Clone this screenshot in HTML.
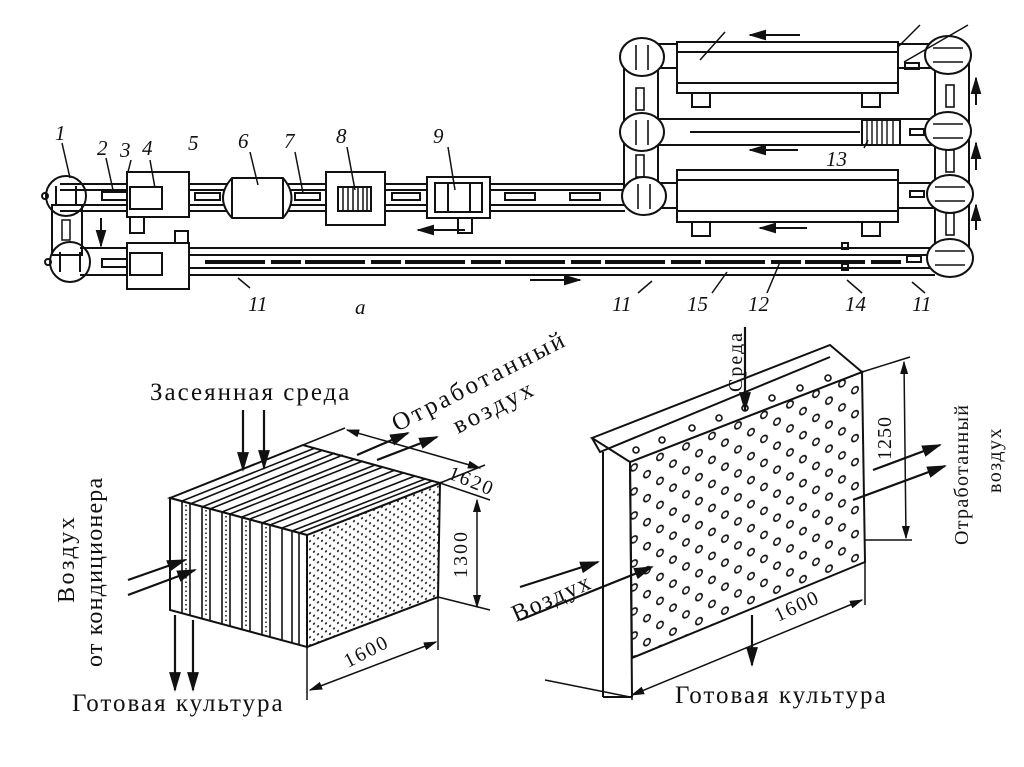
<!DOCTYPE html>
<html><head><meta charset="utf-8"><style>
html,body{margin:0;padding:0;background:#fff;}
svg{display:block;}
text{font-family:"Liberation Serif",serif;fill:#111;}
.n{font-style:italic;font-size:21px;}
.L{font-size:25px;letter-spacing:2px;}
</style></head><body>
<svg width="1024" height="767" viewBox="0 0 1024 767" xmlns="http://www.w3.org/2000/svg">
<defs>
<marker id="ar" viewBox="0 0 10 10" refX="9" refY="5" markerWidth="9" markerHeight="9" orient="auto-start-reverse"><path d="M0,2 L10,5 L0,8 z" fill="#111"/></marker>
<pattern id="dots" width="8" height="8" patternUnits="userSpaceOnUse" patternTransform="skewY(-20)"><circle cx="2" cy="2" r="1.1" fill="#222"/><circle cx="6" cy="6" r="1.1" fill="#222"/></pattern>
<pattern id="holes" width="26" height="24" patternUnits="userSpaceOnUse" patternTransform="translate(640,470) skewY(-22)"><circle cx="7" cy="7" r="3.2" fill="none" stroke="#111" stroke-width="1.6"/><circle cx="20" cy="19" r="3.2" fill="none" stroke="#111" stroke-width="1.6"/></pattern>
</defs>
<g fill="none" stroke="#111" stroke-width="2">
<line x1="60" y1="184" x2="625" y2="184"/><line x1="60" y1="190" x2="625" y2="190"/>
<line x1="60" y1="205" x2="625" y2="205"/><line x1="60" y1="211" x2="625" y2="211"/>
<line x1="80" y1="248" x2="935" y2="248"/><line x1="190" y1="255" x2="935" y2="255"/>
<line x1="190" y1="268" x2="935" y2="268"/><line x1="80" y1="275" x2="935" y2="275"/>
<line x1="205" y1="262" x2="905" y2="262" stroke-width="4" stroke-dasharray="60 6 30 4"/>
<rect x="52" y="205" width="30" height="50"/>
<rect x="62" y="220" width="8" height="20" stroke-width="1.5"/>
<circle cx="66" cy="196" r="20"/><circle cx="70" cy="262" r="20"/>
<line x1="56" y1="186" x2="56" y2="206"/><line x1="76" y1="186" x2="76" y2="206"/>
<line x1="60" y1="252" x2="60" y2="272"/><line x1="80" y1="252" x2="80" y2="272"/>
<circle cx="45" cy="196" r="3"/><circle cx="48" cy="262" r="3"/>
<rect x="102" y="192" width="30" height="8"/><rect x="102" y="259" width="30" height="8"/>
<rect x="127" y="172" width="62" height="45" fill="#fff"/>
<rect x="130" y="187" width="32" height="22"/>
<rect x="127" y="243" width="62" height="46" fill="#fff"/>
<rect x="130" y="253" width="32" height="22"/>
<rect x="130" y="217" width="14" height="16"/><rect x="175" y="231" width="13" height="12"/>
<path d="M232,178 L283,178 Q300,198 283,218 L232,218 Q214,198 232,178 z" fill="#fff"/>
<line x1="232" y1="178" x2="232" y2="218"/><line x1="283" y1="178" x2="283" y2="218"/>
<rect x="195" y="193" width="25" height="7"/><rect x="295" y="193" width="25" height="7"/>
<rect x="326" y="172" width="59" height="53" fill="#fff"/>
<rect x="338" y="187" width="33" height="24"/>
<g stroke-width="1.5"><line x1="343" y1="187" x2="343" y2="211"/><line x1="348" y1="187" x2="348" y2="211"/><line x1="353" y1="187" x2="353" y2="211"/><line x1="358" y1="187" x2="358" y2="211"/><line x1="363" y1="187" x2="363" y2="211"/><line x1="367" y1="187" x2="367" y2="211"/></g>
<rect x="392" y="193" width="28" height="7"/>
<rect x="427" y="177" width="63" height="41" fill="#fff"/>
<rect x="435" y="183" width="47" height="29"/>
<line x1="448" y1="183" x2="448" y2="212"/><line x1="470" y1="183" x2="470" y2="212"/>
<rect x="458" y="218" width="14" height="15"/>
<rect x="505" y="193" width="30" height="7"/><rect x="570" y="193" width="30" height="7"/>
<rect x="624" y="55" width="34" height="145"/><rect x="935" y="55" width="34" height="205"/>
<line x1="658" y1="44" x2="935" y2="44"/><line x1="658" y1="68" x2="935" y2="68"/>
<line x1="658" y1="119" x2="935" y2="119"/><line x1="658" y1="145" x2="935" y2="145"/>
<line x1="658" y1="183" x2="935" y2="183"/><line x1="658" y1="208" x2="935" y2="208"/>
<line x1="690" y1="132" x2="860" y2="132"/>
<g fill="#fff"><ellipse cx="642" cy="57" rx="22" ry="19"/><ellipse cx="642" cy="132" rx="22" ry="19"/><ellipse cx="644" cy="196" rx="22" ry="19"/>
<ellipse cx="948" cy="55" rx="23" ry="19"/><ellipse cx="948" cy="131" rx="23" ry="19"/><ellipse cx="950" cy="194" rx="23" ry="19"/><ellipse cx="950" cy="258" rx="23" ry="19"/></g>
<g stroke-width="1.6"><line x1="636" y1="45" x2="636" y2="70"/><line x1="648" y1="45" x2="648" y2="70"/>
<line x1="636" y1="120" x2="636" y2="145"/><line x1="648" y1="120" x2="648" y2="145"/>
<line x1="638" y1="184" x2="638" y2="209"/><line x1="650" y1="184" x2="650" y2="209"/>
<line x1="933" y1="48" x2="963" y2="48"/><line x1="933" y1="62" x2="963" y2="62"/>
<line x1="933" y1="124" x2="963" y2="124"/><line x1="933" y1="138" x2="963" y2="138"/>
<line x1="935" y1="187" x2="965" y2="187"/><line x1="935" y1="201" x2="965" y2="201"/>
<line x1="935" y1="251" x2="965" y2="251"/><line x1="935" y1="265" x2="965" y2="265"/>
<rect x="636" y="88" width="8" height="22"/><rect x="636" y="155" width="8" height="22"/>
<rect x="946" y="85" width="8" height="22"/><rect x="946" y="150" width="8" height="22"/><rect x="946" y="213" width="8" height="22"/></g>
<rect x="677" y="42" width="221" height="51" fill="#fff"/><line x1="677" y1="52" x2="898" y2="52"/><line x1="677" y1="83" x2="898" y2="83"/>
<rect x="677" y="170" width="221" height="52" fill="#fff"/><line x1="677" y1="180" x2="898" y2="180"/><line x1="677" y1="211" x2="898" y2="211"/>
<rect x="692" y="93" width="18" height="14"/><rect x="862" y="93" width="18" height="14"/>
<rect x="692" y="222" width="18" height="14"/><rect x="862" y="222" width="18" height="14"/>
<rect x="862" y="120" width="38" height="25"/>
<g stroke-width="1.4"><line x1="867" y1="120" x2="867" y2="145"/><line x1="872" y1="120" x2="872" y2="145"/><line x1="877" y1="120" x2="877" y2="145"/><line x1="882" y1="120" x2="882" y2="145"/><line x1="887" y1="120" x2="887" y2="145"/><line x1="893" y1="120" x2="893" y2="145"/></g>
<rect x="905" y="63" width="14" height="6"/><rect x="910" y="129" width="14" height="6"/><rect x="910" y="191" width="14" height="6"/><rect x="907" y="256" width="14" height="6"/>
<rect x="842" y="243" width="6" height="6"/><rect x="842" y="264" width="6" height="6"/>
<g stroke-width="1.5">
<line x1="62" y1="143" x2="70" y2="178"/><line x1="106" y1="158" x2="113" y2="190"/><line x1="131" y1="160" x2="128" y2="172"/>
<line x1="150" y1="160" x2="155" y2="188"/><line x1="250" y1="152" x2="258" y2="185"/><line x1="295" y1="152" x2="303" y2="193"/>
<line x1="347" y1="147" x2="355" y2="190"/><line x1="448" y1="147" x2="455" y2="190"/>
<line x1="250" y1="288" x2="238" y2="278"/><line x1="638" y1="293" x2="652" y2="281"/><line x1="712" y1="293" x2="727" y2="272"/>
<line x1="767" y1="293" x2="780" y2="262"/><line x1="862" y1="293" x2="847" y2="280"/><line x1="925" y1="293" x2="912" y2="282"/>
<line x1="864" y1="148" x2="868" y2="140"/><line x1="700" y1="60" x2="725" y2="32"/><line x1="898" y1="47" x2="920" y2="25"/><line x1="904" y1="62" x2="968" y2="25"/>
</g>
<g stroke-width="2" marker-end="url(#ar)">
<line x1="800" y1="35" x2="750" y2="35"/><line x1="798" y1="150" x2="750" y2="150"/><line x1="807" y1="228" x2="760" y2="228"/>
<line x1="465" y1="230" x2="418" y2="230"/><line x1="530" y1="280" x2="580" y2="280"/>
<line x1="976" y1="105" x2="976" y2="78"/><line x1="976" y1="170" x2="976" y2="143"/><line x1="976" y1="230" x2="976" y2="205"/>
<line x1="101" y1="218" x2="101" y2="246"/>
</g>
</g>
<text class="n" x="55" y="140">1</text><text class="n" x="97" y="155">2</text><text class="n" x="120" y="157">3</text>
<text class="n" x="142" y="155">4</text><text class="n" x="188" y="150">5</text><text class="n" x="238" y="148">6</text>
<text class="n" x="284" y="148">7</text><text class="n" x="336" y="143">8</text><text class="n" x="433" y="143">9</text>
<text class="n" x="248" y="311">11</text><text class="n" x="355" y="314">a</text><text class="n" x="612" y="311">11</text>
<text class="n" x="687" y="311">15</text><text class="n" x="748" y="311">12</text><text class="n" x="845" y="311">14</text>
<text class="n" x="912" y="311">11</text><text class="n" x="826" y="166">13</text>

<g stroke="#111" stroke-width="2" fill="none">
<polygon points="307,535 440,483 438,597 307,647" fill="url(#dots)"/>
<polygon points="170,498 303,445 440,483 307,535" fill="#fff"/>
<polygon points="170,498 307,535 307,647 170,610" fill="#fff"/>
<g stroke-width="1.6">
<line x1="182" y1="501" x2="182" y2="613"/><line x1="190" y1="504" x2="190" y2="615"/><line x1="202" y1="507" x2="202" y2="618"/>
<line x1="210" y1="509" x2="210" y2="620"/><line x1="222" y1="512" x2="222" y2="624"/><line x1="230" y1="514" x2="230" y2="626"/>
<line x1="242" y1="517" x2="242" y2="630"/><line x1="250" y1="519" x2="250" y2="632"/><line x1="262" y1="523" x2="262" y2="635"/>
<line x1="270" y1="525" x2="270" y2="637"/><line x1="282" y1="528" x2="282" y2="640"/><line x1="292" y1="531" x2="292" y2="643"/><line x1="299" y1="533" x2="299" y2="645"/>
<line x1="182" y1="501" x2="315" y2="448"/><line x1="190" y1="504" x2="323" y2="450"/><line x1="202" y1="507" x2="335" y2="453"/>
<line x1="210" y1="509" x2="343" y2="455"/><line x1="222" y1="512" x2="355" y2="459"/><line x1="230" y1="514" x2="363" y2="461"/>
<line x1="242" y1="517" x2="375" y2="465"/><line x1="250" y1="519" x2="383" y2="467"/><line x1="262" y1="523" x2="395" y2="470"/>
<line x1="270" y1="525" x2="403" y2="473"/><line x1="282" y1="528" x2="415" y2="476"/><line x1="292" y1="531" x2="425" y2="479"/><line x1="299" y1="533" x2="432" y2="481"/>
</g>
<g stroke-dasharray="1.5 3" stroke-width="1.5"><line x1="186" y1="505" x2="186" y2="612"/><line x1="226" y1="516" x2="226" y2="622"/><line x1="266" y1="527" x2="266" y2="634"/><line x1="246" y1="521" x2="246" y2="628"/><line x1="206" y1="510" x2="206" y2="617"/></g>
<g stroke-width="1.5">
<line x1="303" y1="445" x2="345" y2="428"/><line x1="440" y1="483" x2="485" y2="465"/><line x1="347" y1="430" x2="480" y2="468" marker-start="url(#ar)" marker-end="url(#ar)"/>
<line x1="440" y1="483" x2="490" y2="500"/><line x1="438" y1="597" x2="490" y2="610"/><line x1="477" y1="500" x2="477" y2="607" marker-start="url(#ar)" marker-end="url(#ar)"/>
<line x1="307" y1="647" x2="307" y2="700"/><line x1="438" y1="597" x2="438" y2="650"/><line x1="310" y1="690" x2="436" y2="642" marker-start="url(#ar)" marker-end="url(#ar)"/>
</g>
<g stroke-width="2.2" marker-end="url(#ar)">
<line x1="243" y1="410" x2="243" y2="470"/><line x1="264" y1="410" x2="264" y2="468"/>
<line x1="357" y1="455" x2="408" y2="433"/><line x1="377" y1="460" x2="437" y2="437"/>
<line x1="128" y1="580" x2="185" y2="560"/><line x1="128" y1="595" x2="195" y2="570"/>
<line x1="175" y1="615" x2="175" y2="690"/><line x1="193" y1="620" x2="193" y2="690"/>
</g>
</g>
<text x="150" y="400" class="L">Засеянная среда</text>
<text font-size="25" letter-spacing="3" transform="translate(397,432) rotate(-27)">Отработанный</text>
<text font-size="25" letter-spacing="3" transform="translate(458,434) rotate(-27)">воздух</text>
<text font-size="20" letter-spacing="2" transform="translate(447,478) rotate(22)">1620</text>
<text font-size="20" letter-spacing="2" transform="translate(467,578) rotate(-90)">1300</text>
<text font-size="20" letter-spacing="2" transform="translate(348,668) rotate(-27)">1600</text>
<text font-size="24" letter-spacing="2.5" transform="translate(74,603) rotate(-90)">Воздух</text>
<text font-size="24" letter-spacing="1.2" transform="translate(102,667) rotate(-90)">от кондиционера</text>
<text x="72" y="711" class="L">Готовая культура</text>

<g stroke="#111" stroke-width="2" fill="none">
<polygon points="630,462 862,372 865,562 632,658" fill="url(#holes)"/>
<polygon points="592,438 830,345 862,372 630,462" fill="#fff"/>
<polyline points="592,438 600,452 830,357"/>
<line x1="603" y1="452" x2="603" y2="697"/><line x1="630" y1="462" x2="632" y2="697"/><line x1="603" y1="697" x2="632" y2="697"/>
<g fill="none" stroke-width="1.6"><circle cx="636" cy="450" r="3"/><circle cx="662" cy="440" r="3"/><circle cx="692" cy="428" r="3"/><circle cx="719" cy="418" r="3"/><circle cx="745" cy="408" r="3"/><circle cx="772" cy="398" r="3"/><circle cx="800" cy="388" r="3"/><circle cx="828" cy="378" r="3"/></g>
<g stroke-width="1.5">
<line x1="862" y1="372" x2="910" y2="357"/><line x1="865" y1="540" x2="912" y2="540"/><line x1="904" y1="362" x2="906" y2="538" marker-start="url(#ar)" marker-end="url(#ar)"/>
<line x1="865" y1="562" x2="865" y2="605"/><line x1="632" y1="697" x2="632" y2="700"/>
<line x1="632" y1="695" x2="862" y2="600" marker-start="url(#ar)" marker-end="url(#ar)"/>
<line x1="545" y1="680" x2="630" y2="697"/>
</g>
<g stroke-width="2.2" marker-end="url(#ar)">
<line x1="745" y1="327" x2="745" y2="410"/>
<line x1="873" y1="470" x2="940" y2="445"/><line x1="853" y1="500" x2="945" y2="466"/>
<line x1="520" y1="587" x2="598" y2="562"/><line x1="520" y1="620" x2="652" y2="567"/>
<line x1="752" y1="615" x2="752" y2="665"/>
</g>
</g>
<text font-size="20" letter-spacing="2" transform="translate(742,392) rotate(-90)">Среда</text>
<text font-size="20" letter-spacing="1" transform="translate(891,460) rotate(-90)">1250</text>
<text font-size="20" letter-spacing="1.3" transform="translate(968,545) rotate(-90)">Отработанный</text>
<text font-size="20" letter-spacing="1.5" transform="translate(1001,493) rotate(-90)">воздух</text>
<text font-size="24" letter-spacing="2" transform="translate(516,622) rotate(-24)">Воздух</text>
<text font-size="20" letter-spacing="2" transform="translate(778,622) rotate(-25)">1600</text>
<text x="675" y="703" class="L">Готовая культура</text>
</svg>
</body></html>
